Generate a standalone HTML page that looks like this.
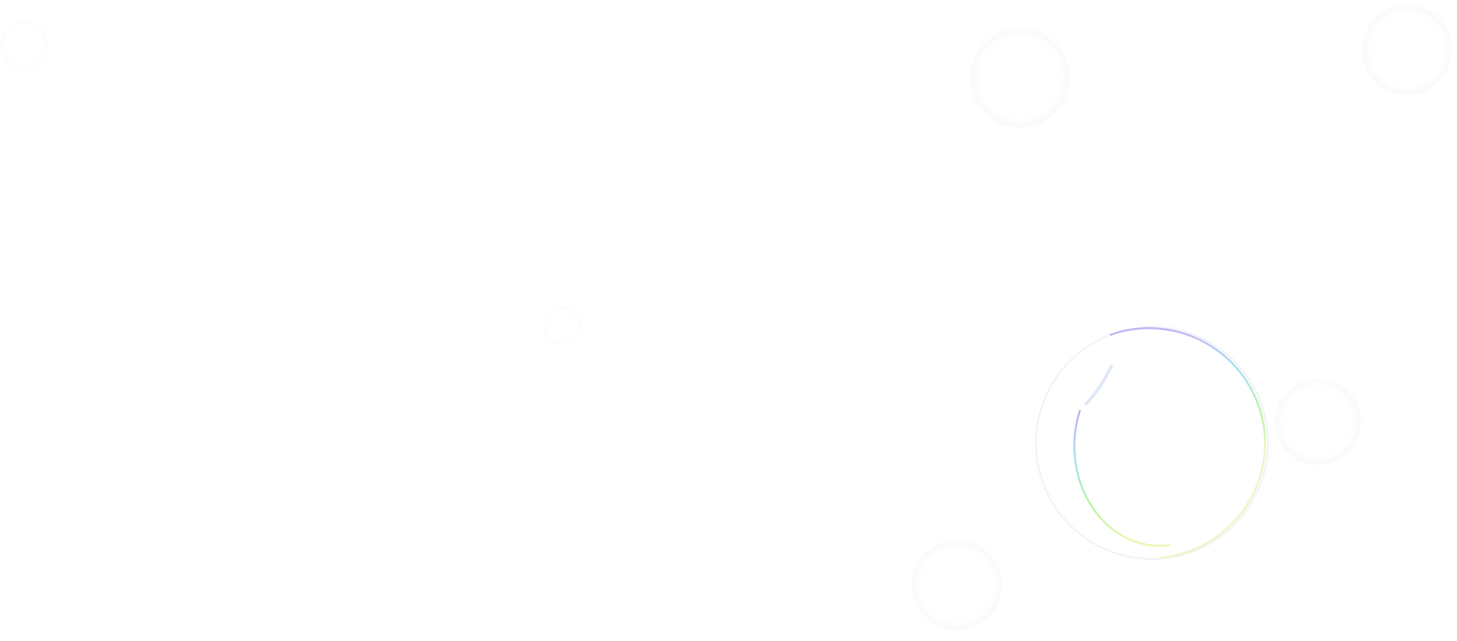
<!DOCTYPE html>
<html><head><meta charset="utf-8"><style>
html,body{margin:0;padding:0;background:#fff;width:1457px;height:641px;overflow:hidden}
</style></head><body>
<svg width="1457" height="641" viewBox="0 0 1457 641" xmlns="http://www.w3.org/2000/svg">
<defs>
<linearGradient id="rb" x1="0" y1="0" x2="0" y2="1">
<stop offset="0" stop-color="#b69cf0"/>
<stop offset="0.35" stop-color="#8fd8f0"/>
<stop offset="0.7" stop-color="#a8f08a"/>
<stop offset="1" stop-color="#e6f7a0"/>
</linearGradient>
<radialGradient id="fb" cx="0.5" cy="0.5" r="0.5">
<stop offset="0.7" stop-color="#fff" stop-opacity="0"/>
<stop offset="0.93" stop-color="#eef0f6" stop-opacity="0.35"/>
<stop offset="1" stop-color="#fff" stop-opacity="0"/>
</radialGradient>
</defs>
<rect width="1457" height="641" fill="#fff"/>
<circle cx="1020" cy="78" r="52" fill="url(#fb)"/>
<circle cx="1407" cy="50" r="47" fill="url(#fb)"/>
<circle cx="1318" cy="422" r="45" fill="url(#fb)"/>
<circle cx="957" cy="585" r="47" fill="url(#fb)"/>
<circle cx="562" cy="326" r="20" fill="url(#fb)" opacity="0.6"/>
<circle cx="24" cy="45" r="25" fill="url(#fb)" opacity="0.6"/>
<circle cx="1152" cy="443" r="116" fill="none" stroke="#f3f4f8" stroke-width="2"/>
<path d="M1080 410 A85 100 0 0 0 1170 545" fill="none" stroke="url(#rb)" stroke-width="2" opacity="0.8"/>
<path d="M1110 335 A116 116 0 0 1 1265 450" fill="none" stroke="url(#rb)" stroke-width="2" opacity="0.75"/>
<path d="M1265 450 A116 116 0 0 1 1160 558" fill="none" stroke="#e8f5b8" stroke-width="2" opacity="0.8"/>
<path d="M1112 365 Q1100 390 1085 405" fill="none" stroke="#c8d8f5" stroke-width="3" opacity="0.6"/>
</svg>
</body></html>
